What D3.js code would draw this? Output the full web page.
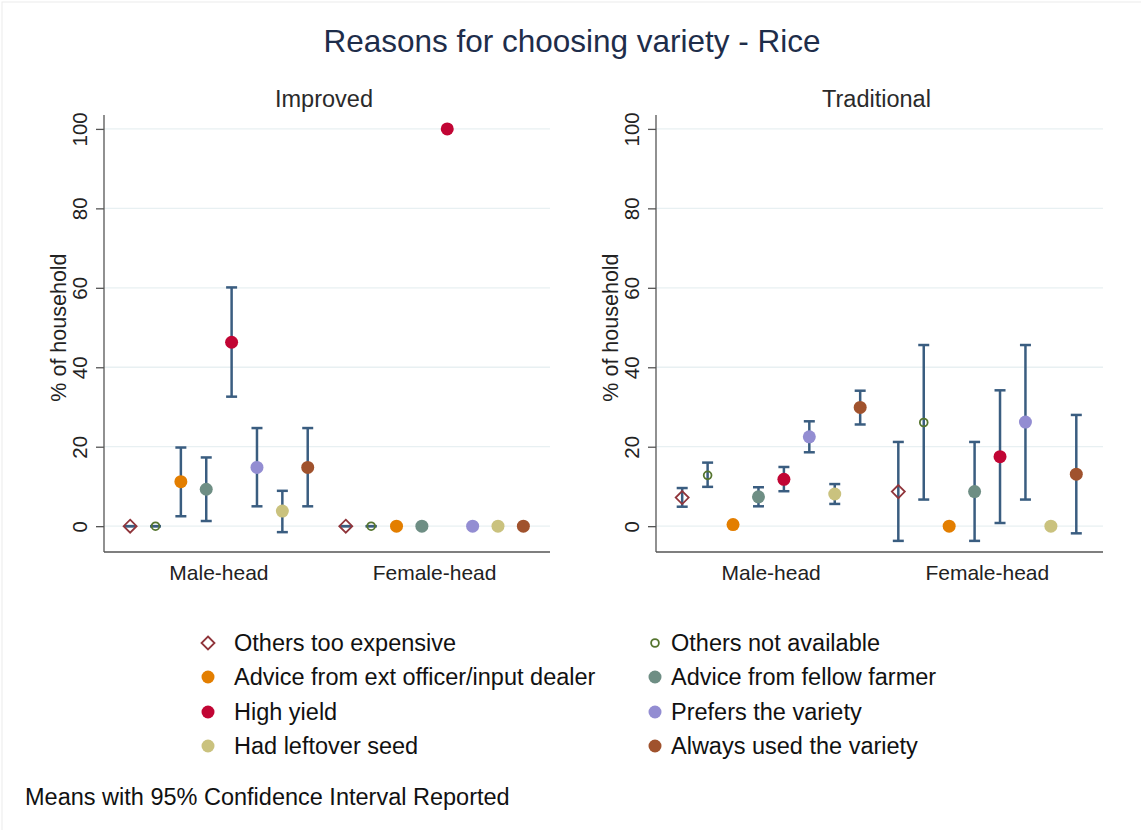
<!DOCTYPE html>
<html><head><meta charset="utf-8">
<script src="https://cdn.jsdelivr.net/npm/d3@7"></script>
<style>
html,body{margin:0;padding:0;background:#fff;}
text{font-family:"Liberation Sans",Arial,sans-serif;}
</style></head>
<body>
<svg id="chart" width="1141" height="830"></svg>
<script>
// ---------------- DATA ----------------
const reasons = ["Others too expensive","Others not available","Advice from ext officer/input dealer","Advice from fellow farmer","High yield","Prefers the variety","Had leftover seed","Always used the variety"];
const colors = ["#90353b","#55752f","#e37e00","#6e8e84","#c10534","#938dd2","#cac27e","#a0522d"];
const symbols = ["diamondHollow","circleHollow","circle","circle","circle","circle","circle","circle"];
const groups = ["Male-head","Female-head"];
const panels = ["Improved","Traditional"];
const yTicks = [0,20,40,60,80,100];

// Improved: [Male-head, Female-head]
const improvedMean = [[0,0,11.2,9.3,46.3,14.8,3.8,14.8],[0,0,0,0,100,0,0,0]];
const improvedLow  = [[0,0,2.5,1.3,32.6,5.0,-1.5,5.0],[0,0,0,0,100,0,0,0]];
const improvedHigh = [[0,0,19.8,17.3,60.1,24.7,8.9,24.7],[0,0,0,0,100,0,0,0]];
// Traditional: [Male-head, Female-head]
const traditionalMean = [[7.2,12.8,0.4,7.4,11.8,22.5,8.1,29.9],[8.7,26.1,0,8.7,17.5,26.2,0,13.1]];
const traditionalLow  = [[4.9,9.9,null,5.0,8.8,18.6,5.6,25.6],[-3.7,6.7,0,-3.7,0.8,6.7,0,-1.8]];
const traditionalHigh = [[9.6,16.0,null,9.8,14.9,26.4,10.6,34.1],[21.2,45.6,0,21.2,34.2,45.6,0,28.0]];

const note = "Means with 95% Confidence Interval Reported";
const title = "Reasons for choosing variety - Rice";
const yTitle = "% of household";

// ---------------- DRAW ----------------
const svg = d3.select("#chart");
svg.append("rect").attr("x",2).attr("y",2).attr("width",1160).attr("height",860)
   .attr("fill","#fff").attr("stroke","#ececec").attr("stroke-width",1);

svg.append("text").attr("x",572).attr("y",52).attr("text-anchor","middle")
   .attr("font-size",31.5).attr("fill","#1e2d4a").text(title);

const ciColor = "#3a5d80";
const panelData = [
  {name:panels[0], mean:improvedMean, low:improvedLow, high:improvedHigh, x0:104, x1:550},
  {name:panels[1], mean:traditionalMean, low:traditionalLow, high:traditionalHigh, x0:656, x1:1103}
];

const y = d3.scaleLinear().domain([-6.5,103.5]).range([552,115]);

function drawMarker(g, sym, color, cx, cy, r){
  if(sym==="diamondHollow"){
    const d = r*1.0;
    g.append("path").attr("d",`M${cx},${cy-d}L${cx+d},${cy}L${cx},${cy+d}L${cx-d},${cy}Z`)
     .attr("fill","none").attr("stroke",color).attr("stroke-width",1.8);
  } else if(sym==="circleHollow"){
    g.append("circle").attr("cx",cx).attr("cy",cy).attr("r",r*0.6)
     .attr("fill","none").attr("stroke",color).attr("stroke-width",1.8);
  } else {
    g.append("circle").attr("cx",cx).attr("cy",cy).attr("r",r).attr("fill",color);
  }
}

panelData.forEach(p=>{
  const g = svg.append("g");
  // position index: group gi, reason ri -> gi*8.5 + ri
  const x = d3.scaleLinear().domain([-1.03,16.55]).range([p.x0,p.x1]);
  const pos = (gi,ri)=> x(gi*8.5+ri);

  // grid
  g.selectAll(".grid").data(yTicks).enter().append("line")
    .attr("x1",p.x0).attr("x2",p.x1).attr("y1",d=>y(d)).attr("y2",d=>y(d))
    .attr("stroke","#e8f0f2").attr("stroke-width",1.3);

  // y axis
  const yAxis = d3.axisLeft(y).tickValues(yTicks).tickSize(8).tickFormat(d3.format("d"));
  const ya = g.append("g").attr("transform",`translate(${p.x0},0)`).call(yAxis);
  ya.select(".domain").attr("d",`M0,115V552`).attr("stroke","#555").attr("stroke-width",1.3);
  ya.selectAll(".tick line").attr("stroke","#555").attr("stroke-width",1.3);
  ya.selectAll(".tick text").attr("font-size",20.5).attr("fill","#222")
    .attr("x",0).attr("y",0).attr("dy","0.35em").attr("text-anchor","middle")
    .attr("transform","translate(-24,0) rotate(-90)");

  // x axis line
  g.append("line").attr("x1",p.x0).attr("x2",p.x1).attr("y1",552).attr("y2",552)
   .attr("stroke","#555").attr("stroke-width",1.3);

  // group labels
  groups.forEach((gr,gi)=>{
    g.append("text").attr("x",(pos(gi,0)+pos(gi,7))/2).attr("y",580)
     .attr("text-anchor","middle").attr("font-size",21).attr("fill","#222").text(gr);
  });

  // y title
  g.append("text").attr("transform",`translate(${p.x0-46},${(y(0)+y(100))/2}) rotate(-90)`)
   .attr("dy","0.35em").attr("text-anchor","middle").attr("font-size",21.5).attr("fill","#222").text(yTitle);

  // subtitle
  g.append("text").attr("x",(p.x0+p.x1)/2 - 3).attr("y",107).attr("text-anchor","middle")
   .attr("font-size",23.5).attr("fill","#2a2a2a").text(p.name);

  // CIs
  groups.forEach((gr,gi)=>{
    reasons.forEach((r,ri)=>{
      const lo = p.low[gi][ri], hi = p.high[gi][ri];
      if(lo===null || hi===null) return;
      const cx = pos(gi,ri);
      g.append("line").attr("x1",cx).attr("x2",cx).attr("y1",y(lo)).attr("y2",y(hi))
       .attr("stroke",ciColor).attr("stroke-width",2.5);
      [lo,hi].forEach(v=>{
        g.append("line").attr("x1",cx-5.5).attr("x2",cx+5.5).attr("y1",y(v)).attr("y2",y(v))
         .attr("stroke",ciColor).attr("stroke-width",2.5);
      });
    });
  });
  // markers
  groups.forEach((gr,gi)=>{
    reasons.forEach((r,ri)=>{
      drawMarker(g, symbols[ri], colors[ri], pos(gi,ri), y(p.mean[gi][ri]), 6.5);
    });
  });
});

// legend
const legRowY = [643,677,712,746];
const legColKey = [208,655];
const legColText = [234,671];
reasons.forEach((r,i)=>{
  const col = i%2, row = Math.floor(i/2);
  const lg = svg.append("g");
  drawMarker(lg, symbols[i], colors[i], legColKey[col], legRowY[row], 6.5);
  lg.append("text").attr("x",legColText[col]).attr("y",legRowY[row]).attr("dy","0.35em")
    .attr("font-size",23.5).attr("fill","#111").text(r);
});

svg.append("text").attr("x",25).attr("y",805).attr("font-size",23.5).attr("fill","#111").text(note);
</script>
</body></html>
